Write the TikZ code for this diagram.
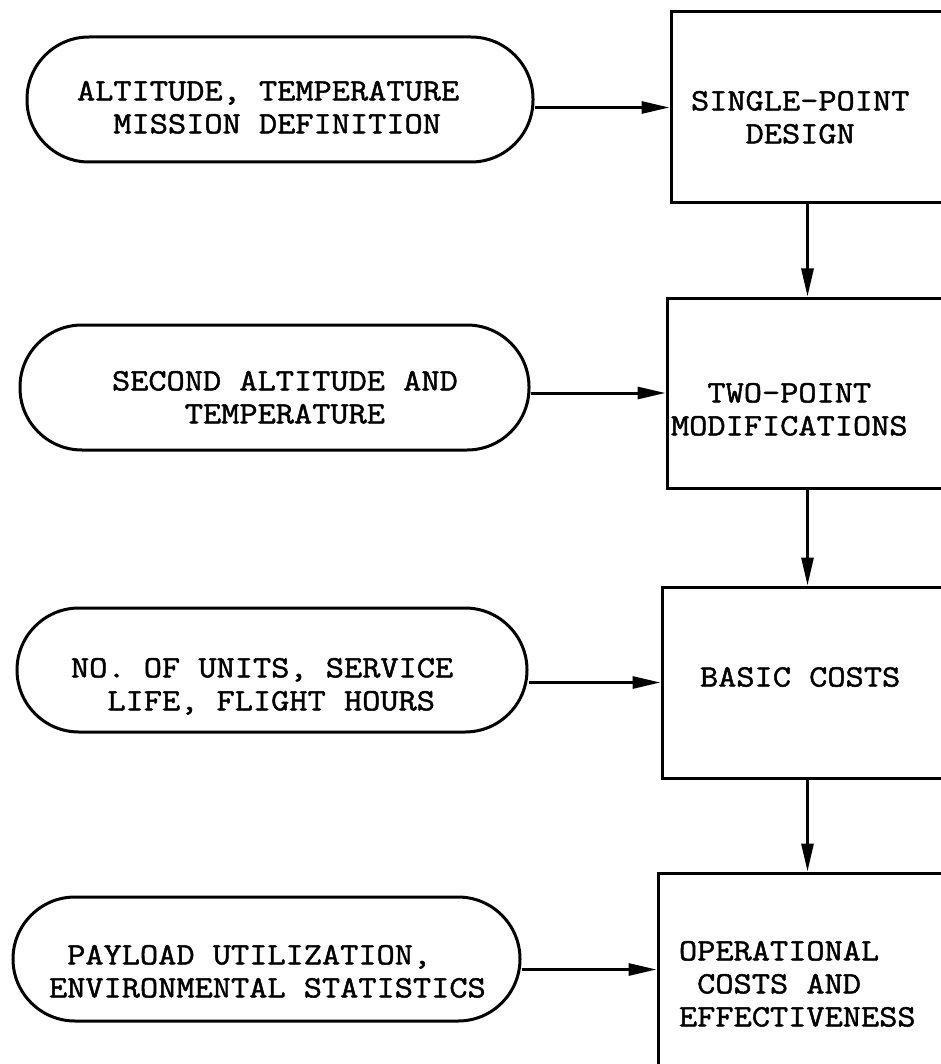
\documentclass[tikz,border=0pt]{standalone}
\usepackage{fontspec}
\newfontfamily\twfont{Latin Modern Mono}[FakeBold=1.5,FakeStretch=1.14]
\usetikzlibrary{arrows.meta}
\newcommand{\ind}[1]{\hspace*{#1\fontcharwd\font`\M}}
\begin{document}
\begin{tikzpicture}[x=1pt,y=-1pt,line width=3pt,
  term/.style={draw,rectangle,rounded corners=62pt,inner sep=0pt},
  proc/.style={draw,rectangle,inner sep=0pt},
  txt/.style={inner sep=0pt,outer sep=0pt,align=left,anchor=north west,
    font=\twfont\fontsize{31}{33}\selectfont},
  flow/.style={-{Triangle[length=28pt,width=12pt]}}]
\useasboundingbox (0,0) rectangle (941,1064);

% terminators
\node[term,minimum width=506pt,minimum height=125pt] (t1) at (280,99.5) {};
\node[term,minimum width=509pt,minimum height=125pt] (t2) at (274.5,387.5) {};
\node[term,minimum width=510pt,minimum height=124pt] (t3) at (272,670) {};
\node[term,minimum width=507pt,minimum height=124pt] (t4) at (266.5,959) {};

% process boxes (right edge runs off the page)
\node[proc,minimum width=273pt,minimum height=191pt] (b1) at (807.5,107.5) {};
\node[proc,minimum width=277pt,minimum height=190pt] (b2) at (805.5,393) {};
\node[proc,minimum width=282pt,minimum height=191pt] (b3) at (803,682.5) {};
\node[proc,minimum width=286pt,minimum height=193pt] (b4) at (801,969.5) {};

% texts
\node[txt] (t1txt) at (77,81) {ALTITUDE, TEMPERATURE\\\ind{2}MISSION DEFINITION};
\node[txt] (t2txt) at (112,371) {SECOND ALTITUDE AND\\\ind{4}TEMPERATURE};
\node[txt] (t3txt) at (71,658) {NO. OF UNITS, SERVICE\\\ind{2}LIFE, FLIGHT HOURS};
\node[txt] (t4txt) at (49,945) {\ind{1}PAYLOAD UTILIZATION,\\ENVIRONMENTAL STATISTICS};

\node[txt] (b1txt) at (691,91) {SINGLE-POINT\\\ind{3}DESIGN};
\node[txt] (b2txt) at (671,383) {\ind{2}TWO-POINT\\MODIFICATIONS};
\node[txt,anchor=west] (b3txt) at (700,677) {BASIC COSTS};
\node[txt] (b4txt) at (679,941) {OPERATIONAL\\\ind{1}COSTS AND\\EFFECTIVENESS};

% connectors
\draw[flow] (t1.east |- b1.west) -- (b1.west);
\draw[flow] (t2.east |- b2.west) -- (b2.west);
\draw[flow] (t3.east |- b3.west) -- (b3.west);
\draw[flow] (t4.east |- b4.west) -- (b4.west);

\draw[flow] (b1.south) -- (b1.south |- b2.north);
\draw[flow] (b2.south -| b1.south) -- (b3.north -| b1.south);
\draw[flow] (b3.south -| b1.south) -- (b4.north -| b1.south);
\end{tikzpicture}
\end{document}
